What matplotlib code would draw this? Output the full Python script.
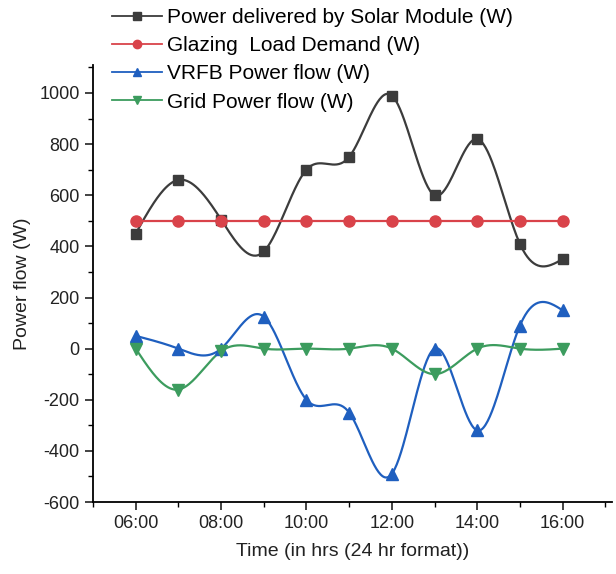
import numpy as np
import matplotlib
matplotlib.use("Agg")
import matplotlib.pyplot as plt
from matplotlib.ticker import MultipleLocator, FuncFormatter

plt.rcParams['font.family'] = ['Liberation Sans', 'DejaVu Sans']
plt.rcParams['axes.unicode_minus'] = False

hours = [6, 7, 8, 9, 10, 11, 12, 13, 14, 15, 16]
solar = [450, 660, 505, 380, 700, 750, 990, 600, 820, 410, 350]
load = [500, 500, 500, 500, 500, 500, 500, 500, 500, 500, 500]
vrfb = [50, 0, 0, 125, -200, -250, -490, 0, -320, 90, 150]
grid = [0, -160, -10, 0, 0, 0, 0, -100, 0, 0, 0]
labels = ["Power delivered by Solar Module (W)", "Glazing  Load Demand (W)",
          "VRFB Power flow (W)", "Grid Power flow (W)"]


def natural_spline(x, y, n=400):
    x = np.asarray(x, float); y = np.asarray(y, float)
    k = len(x); h = np.diff(x)
    A = np.zeros((k, k)); b = np.zeros(k)
    A[0, 0] = A[-1, -1] = 1
    for i in range(1, k - 1):
        A[i, i - 1] = h[i - 1]; A[i, i] = 2 * (h[i - 1] + h[i]); A[i, i + 1] = h[i]
        b[i] = 3 * ((y[i + 1] - y[i]) / h[i] - (y[i] - y[i - 1]) / h[i - 1])
    c = np.linalg.solve(A, b)
    xs = np.linspace(x[0], x[-1], n)
    idx = np.clip(np.searchsorted(x, xs) - 1, 0, k - 2)
    dx = xs - x[idx]
    bb = (y[idx + 1] - y[idx]) / h[idx] - h[idx] * (2 * c[idx] + c[idx + 1]) / 3
    d = (c[idx + 1] - c[idx]) / (3 * h[idx])
    ys = y[idx] + bb * dx + c[idx] * dx ** 2 + d * dx ** 3
    return xs, ys


fig = plt.figure(figsize=(6.16, 5.74), dpi=100)
ax = fig.add_axes([0.151, 0.1254, 0.842, 0.7616])

series = [
    (solar, '#3c3c3c', 's', 7),
    (load, '#d9434a', 'o', 8),
    (vrfb, '#1f5fbf', '^', 8),
    (grid, '#3c9c5e', 'v', 8),
]
handles = []
for (vals, col, mk, ms), lab in zip(series, labels):
    xs, ys = natural_spline(hours, vals)
    ax.plot(xs, ys, color=col, lw=1.6, zorder=2)
    ax.plot(hours, vals, linestyle='none', marker=mk, color=col, ms=ms, zorder=3)
    h, = ax.plot([], [], color=col, lw=1.3, marker=mk, ms=ms * 0.75, label=lab)
    handles.append(h)

ax.set_xlim(5.0, 17.15)
ax.set_ylim(-600, 1110)
ax.xaxis.set_major_locator(MultipleLocator(2))
ax.xaxis.set_minor_locator(MultipleLocator(1))
ax.xaxis.set_major_formatter(FuncFormatter(lambda v, p: f"{int(round(v)):02d}:00"))
ax.yaxis.set_major_locator(MultipleLocator(200))
ax.yaxis.set_minor_locator(MultipleLocator(100))
ax.set_xticks([6, 8, 10, 12, 14, 16])
ax.set_yticks(range(-600, 1001, 200))
for s in ['top', 'right']:
    ax.spines[s].set_visible(False)
for s in ['left', 'bottom']:
    ax.spines[s].set_linewidth(1.3)
ax.tick_params(axis='both', which='major', direction='out', length=6, width=1.2,
               labelsize=13, colors='#222222')
ax.tick_params(axis='both', which='minor', direction='out', length=3.5, width=1.0)
ax.set_xlabel("Time (in hrs (24 hr format))", fontsize=14, color='#222222', labelpad=8)
ax.set_ylabel("Power flow (W)", fontsize=14, color='#222222', labelpad=6)

fig.legend(handles=handles, loc='upper left', bbox_to_anchor=(0.1818, 0.986),
           frameon=False, fontsize=15, handlelength=2.4, handletextpad=0.25,
           labelspacing=0.44, borderpad=0, borderaxespad=0)

fig.savefig("out.png", dpi=100)
